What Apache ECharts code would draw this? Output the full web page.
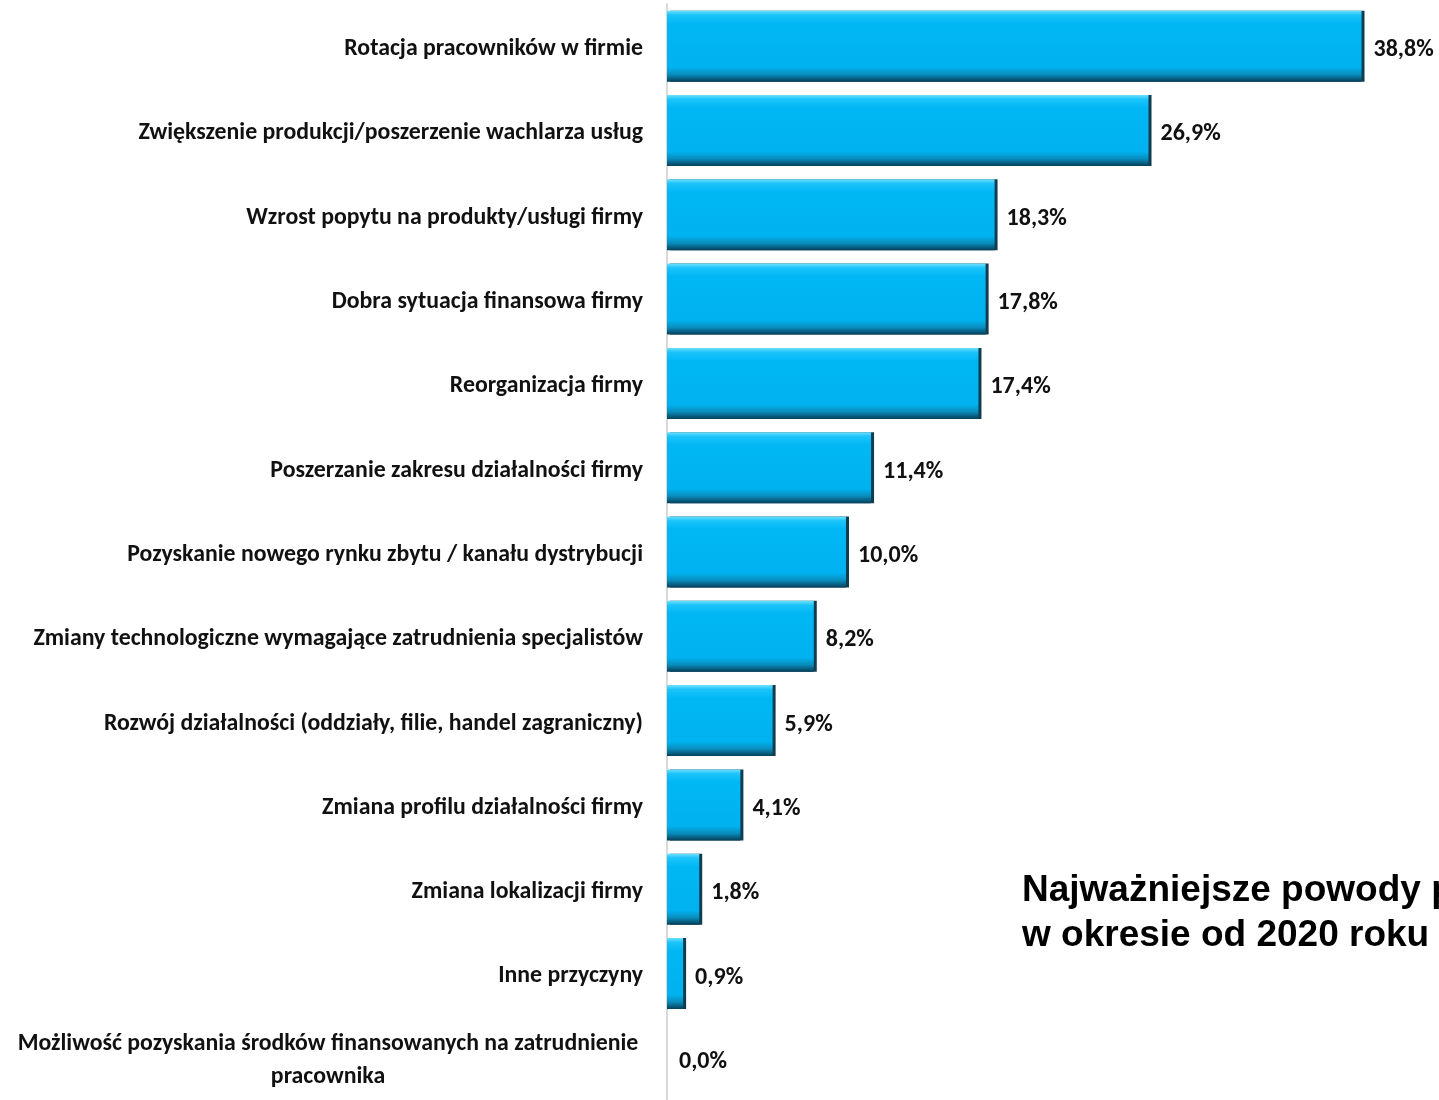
<!DOCTYPE html>
<html>
<head>
<meta charset="utf-8">
<script src="https://cdn.jsdelivr.net/npm/echarts@6/dist/echarts.min.js"></script>
<style>
  html, body { margin: 0; padding: 0; background: #fff; }
  #chart { width: 1439px; height: 1100px; }
</style>
</head>
<body>
<div id="chart"></div>
<script>
var categories = [
    'Rotacja pracowników w firmie',
    'Zwiększenie produkcji/poszerzenie wachlarza usług',
    'Wzrost popytu na produkty/usługi firmy',
    'Dobra sytuacja finansowa firmy',
    'Reorganizacja firmy',
    'Poszerzanie zakresu działalności firmy',
    'Pozyskanie nowego rynku zbytu / kanału dystrybucji',
    'Zmiany technologiczne wymagające zatrudnienia specjalistów',
    'Rozwój działalności (oddziały, filie, handel zagraniczny)',
    'Zmiana profilu działalności firmy',
    'Zmiana lokalizacji firmy',
    'Inne przyczyny',
    'Możliwość pozyskania środków finansowanych na zatrudnienie\npracownika'
];
var values = [38.8, 26.9, 18.3, 17.8, 17.4, 11.4, 10.0, 8.2, 5.9, 4.1, 1.8, 0.9, 0.0];
var titleLines = ['Najważniejsze powody p', 'w okresie od 2020 roku'];

var labelFont = "Carlito, 'Noto Sans', sans-serif";

var chart = echarts.init(document.getElementById('chart'));

// bevelled look of the original bars
var barFill = new echarts.graphic.LinearGradient(0, 0, 0, 1, [
    { offset: 0, color: '#6fe0ff' },
    { offset: 0.06, color: '#1cc4fa' },
    { offset: 0.18, color: '#00b7f4' },
    { offset: 0.8, color: '#00b2ef' },
    { offset: 0.9, color: '#0a8cbc' },
    { offset: 1, color: '#053f58' }
]);

var option = {
    backgroundColor: '#ffffff',
    animation: false,
    title: {
        text: titleLines.join('\n'),
        left: 1017,
        top: 863,
        textStyle: {
            fontFamily: "'Liberation Sans', Arial, sans-serif",
            fontWeight: 'bold',
            fontSize: 37,
            lineHeight: 45,
            color: '#000'
        }
    },
    grid: {
        left: 667,
        top: 4,
        width: 716,
        height: 1101
    },
    xAxis: {
        type: 'value',
        min: 0,
        max: 40,
        show: false,
        splitLine: { show: false }
    },
    yAxis: {
        type: 'category',
        data: categories,
        inverse: true,
        axisTick: { show: false },
        axisLine: { lineStyle: { color: '#d9d9d9', width: 2 } },
        axisLabel: {
            margin: 24,
            color: '#111',
            fontFamily: labelFont,
            fontWeight: 'bold',
            fontSize: 23.8,
            lineHeight: 33,
            padding: [6, 0, 0, 0],
            formatter: function (value) {
                if (value.indexOf('\n') < 0) return value;
                return value.split('\n').map(function (s) {
                    return '{c|' + s + '}';
                }).join('\n');
            },
            rich: {
                c: {
                    width: 630,
                    align: 'center',
                    fontFamily: labelFont,
                    fontWeight: 'bold',
                    fontSize: 23.8,
                    lineHeight: 33,
                    color: '#111'
                }
            }
        }
    },
    series: [
        {
            type: 'bar',
            data: values,
            barWidth: 71,
            itemStyle: {
                color: barFill,
                shadowColor: 'rgba(4, 50, 70, 0.95)',
                shadowOffsetX: 3,
                shadowOffsetY: 0,
                shadowBlur: 0
            },
            label: {
                show: true,
                position: 'right',
                distance: 12,
                offset: [0, 4],
                color: '#111',
                fontFamily: labelFont,
                fontWeight: 'bold',
                fontSize: 24,
                formatter: function (p) {
                    return p.value.toFixed(1).replace('.', ',') + '%';
                }
            }
        }
    ]
};
chart.setOption(option);
</script>
</body>
</html>
